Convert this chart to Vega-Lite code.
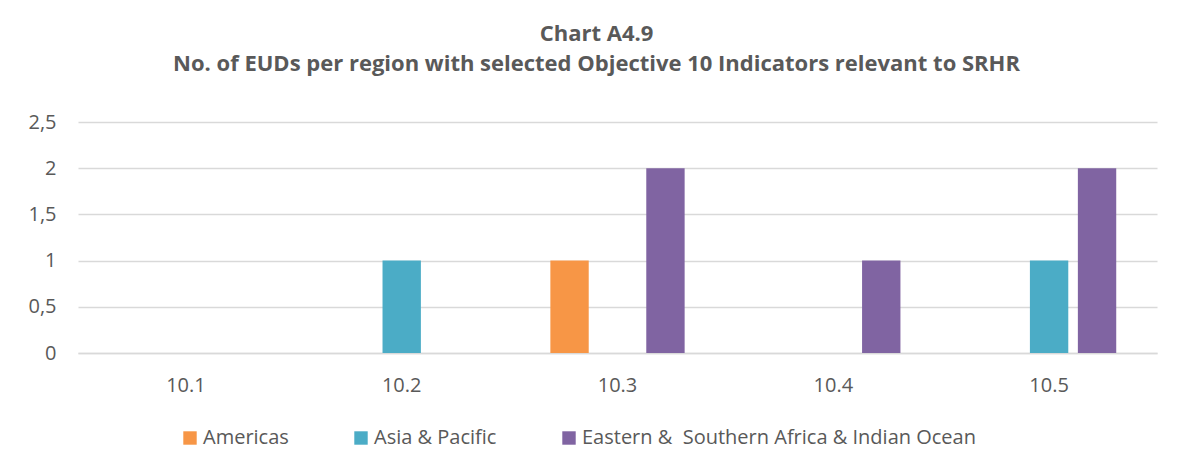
{
  "$schema": "https://vega.github.io/schema/vega-lite/v6.json",
  "width": 1079,
  "height": 231,
  "autosize": {"type": "none"},
  "padding": {"left": 78, "top": 122, "right": 30, "bottom": 119},
  "background": "white",
  "title": {
    "text": ["Chart A4.9", "No. of EUDs per region with selected Objective 10 Indicators relevant to SRHR"],
    "font": "Open Sans",
    "fontSize": 22,
    "fontWeight": "bold",
    "color": "#595959",
    "lineHeight": 30,
    "anchor": "middle",
    "dx": -21,
    "offset": 36
  },
  "data": {
    "values": [
      {"indicator": "10.1", "region": "Americas", "count": 0},
      {"indicator": "10.1", "region": "Asia & Pacific", "count": 0},
      {"indicator": "10.1", "region": "Eastern & \u00a0Southern Africa & Indian Ocean", "count": 0},
      {"indicator": "10.2", "region": "Americas", "count": 0},
      {"indicator": "10.2", "region": "Asia & Pacific", "count": 1},
      {"indicator": "10.2", "region": "Eastern & \u00a0Southern Africa & Indian Ocean", "count": 0},
      {"indicator": "10.3", "region": "Americas", "count": 1},
      {"indicator": "10.3", "region": "Asia & Pacific", "count": 0},
      {"indicator": "10.3", "region": "Eastern & \u00a0Southern Africa & Indian Ocean", "count": 2},
      {"indicator": "10.4", "region": "Americas", "count": 0},
      {"indicator": "10.4", "region": "Asia & Pacific", "count": 0},
      {"indicator": "10.4", "region": "Eastern & \u00a0Southern Africa & Indian Ocean", "count": 1},
      {"indicator": "10.5", "region": "Americas", "count": 0},
      {"indicator": "10.5", "region": "Asia & Pacific", "count": 1},
      {"indicator": "10.5", "region": "Eastern & \u00a0Southern Africa & Indian Ocean", "count": 2}
    ]
  },
  "mark": {"type": "bar"},
  "encoding": {
    "x": {
      "field": "indicator",
      "type": "nominal",
      "sort": null,
      "scale": {"paddingInner": 0.3333, "paddingOuter": 0.1667},
      "axis": {
        "title": null,
        "labelAngle": 0,
        "labelFont": "Open Sans",
        "labelFontSize": 20,
        "labelColor": "#595959",
        "labelPadding": 22,
        "ticks": false,
        "domainColor": "#d9d9d9",
        "domainWidth": 1.5,
        "grid": false
      }
    },
    "xOffset": {
      "field": "region",
      "type": "nominal",
      "sort": ["Americas", "Asia & Pacific", "Eastern & \u00a0Southern Africa & Indian Ocean"],
      "scale": {"paddingInner": 0.2, "paddingOuter": 0.1}
    },
    "y": {
      "field": "count",
      "type": "quantitative",
      "scale": {"domain": [0, 2.5]},
      "axis": {
        "title": null,
        "values": [0, 0.5, 1, 1.5, 2, 2.5],
        "labelExpr": "replace(format(datum.value, '~g'), '.', ',')",
        "labelFont": "Open Sans",
        "labelFontSize": 20,
        "labelColor": "#595959",
        "labelPadding": 22,
        "ticks": false,
        "domain": false,
        "gridColor": "#d9d9d9",
        "gridWidth": 1.5
      }
    },
    "color": {
      "field": "region",
      "type": "nominal",
      "sort": ["Americas", "Asia & Pacific", "Eastern & \u00a0Southern Africa & Indian Ocean"],
      "scale": {"range": ["#F79646", "#4BACC6", "#8064A2"]},
      "legend": {
        "title": null,
        "orient": "none",
        "direction": "horizontal",
        "legendX": 102,
        "legendY": 306,
        "symbolType": "square",
        "symbolSize": 180,
        "symbolStrokeWidth": 0,
        "labelFont": "Open Sans",
        "labelFontSize": 20,
        "labelColor": "#595959",
        "labelLimit": 700,
        "columnPadding": 62,
        "symbolOffset": 0,
        "labelOffset": 3
      }
    }
  },
  "config": {"view": {"stroke": null}}
}
